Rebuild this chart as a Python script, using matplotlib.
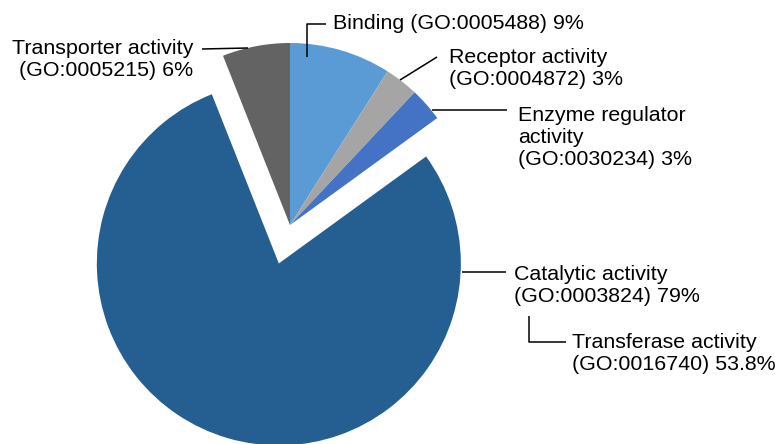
import matplotlib.pyplot as plt

# GO molecular function categories, clockwise from 12 o'clock
categories = ["Binding", "Receptor activity", "Enzyme regulator activity",
              "Catalytic activity", "Transporter activity"]
go_ids = ["GO:0005488", "GO:0004872", "GO:0030234", "GO:0003824", "GO:0005215"]
percents = [9, 3, 3, 79, 6]
colors = ["#5B9BD5", "#A5A5A5", "#4472C4", "#255E91", "#636363"]
exploded = [0, 0, 0, 1, 0]

sub_category = "Transferase activity"
sub_go_id = "GO:0016740"
sub_percent = 53.8

plt.rcParams['font.family'] = ['Liberation Sans', 'DejaVu Sans']

W, H = 775, 444
fig = plt.figure(figsize=(W / 100, H / 100), dpi=100)
ax = fig.add_axes([0, 0, 1, 1])

# work in pixel units, y measured from the bottom
R = 182
cx, cy = 290, H - 225
ax.pie(percents, colors=colors, startangle=90, counterclock=False,
       explode=[e * 0.22 * R for e in exploded], radius=R, center=(cx, cy),
       wedgeprops=dict(linewidth=0))

ax.set_xlim(0, W)
ax.set_ylim(0, H)
ax.set_aspect('equal')
ax.axis('off')


def label(i):
    return f"{categories[i]} ({go_ids[i]}) {percents[i]}%"


def line(xs, ys):
    ax.plot(xs, [H - y for y in ys], color='black', lw=1.1, solid_capstyle='butt')


fs = 15.4
# Binding
line([307, 307, 326], [57, 24, 24])
ax.text(333, H - 23, label(0), fontsize=fs, va='center', ha='left')
# Receptor
line([400, 437], [80, 57])
ax.text(449, H - 68, f"{categories[1]}\n({go_ids[1]}) {percents[1]}%",
        fontsize=fs, va='center', ha='left')
# Enzyme regulator
line([432, 507], [110, 110])
ax.text(518, H - 137, f"Enzyme regulator\nactivity\n({go_ids[2]}) {percents[2]}%",
        fontsize=fs, va='center', ha='left')
# Catalytic
line([462, 506], [272, 272])
ax.text(514, H - 285, f"{categories[3]}\n({go_ids[3]}) {percents[3]}%",
        fontsize=fs, va='center', ha='left')
# Transferase (sub-category of catalytic)
line([529, 529, 566], [316, 342, 342])
ax.text(572, H - 354, f"{sub_category}\n({sub_go_id}) {sub_percent}%",
        fontsize=fs, va='center', ha='left')
# Transporter
line([202, 248], [49, 48])
ax.text(193, H - 59, f"{categories[4]}\n({go_ids[4]}) {percents[4]}%",
        fontsize=fs, va='center', ha='right', multialignment='right')

fig.savefig('out.png', dpi=100)
